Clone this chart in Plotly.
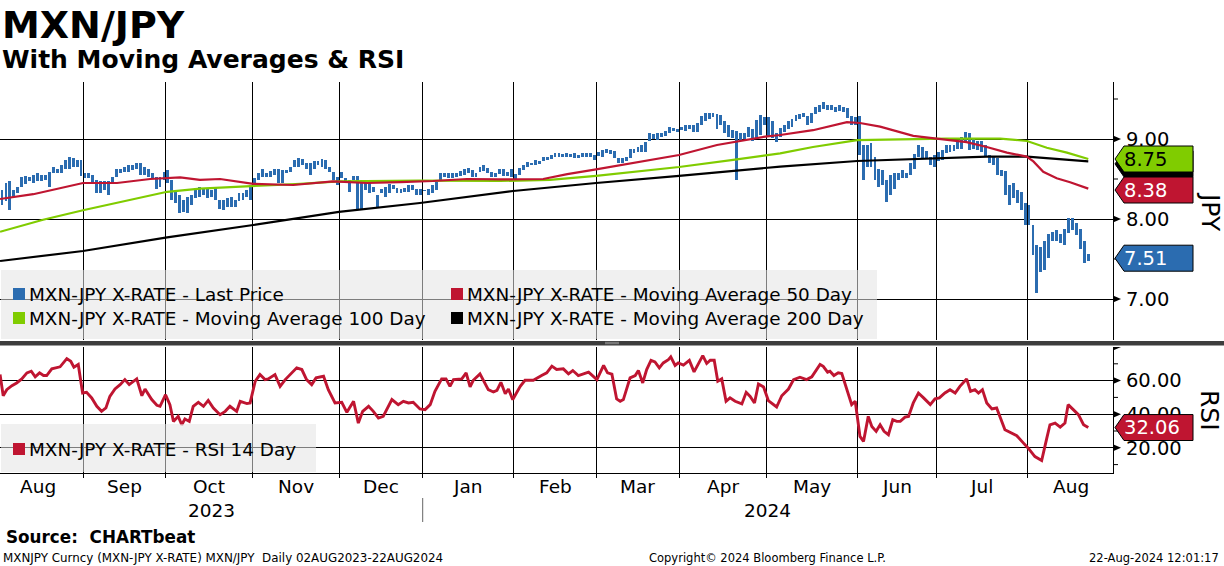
import numpy as np
import pandas as pd
import plotly.graph_objects as go

# ---------------- data ----------------
dates = pd.bdate_range("2023-08-02", "2024-08-22")   # 277 daily bars

price_high = [
    8.49, 8.36, 8.45, 8.47, 8.36, 8.40, 8.53, 8.54, 8.53, 8.55,
    8.57, 8.55, 8.55, 8.59, 8.65, 8.63, 8.67, 8.74, 8.78, 8.76,
    8.74, 8.74, 8.57, 8.58, 8.55, 8.49, 8.47, 8.47, 8.47, 8.53,
    8.62, 8.63, 8.65, 8.67, 8.67, 8.70, 8.70, 8.65, 8.63, 8.57,
    8.53, 8.53, 8.59, 8.61, 8.49, 8.36, 8.30, 8.24, 8.28, 8.30,
    8.36, 8.40, 8.38, 8.38, 8.36, 8.40, 8.24, 8.24, 8.26, 8.28,
    8.24, 8.32, 8.32, 8.36, 8.42, 8.51, 8.57, 8.63, 8.57, 8.60,
    8.62, 8.63, 8.61, 8.61, 8.65, 8.74, 8.76, 8.75, 8.70, 8.70,
    8.72, 8.72, 8.75, 8.74, 8.65, 8.59, 8.53, 8.59, 8.51, 8.49,
    8.54, 8.54, 8.49, 8.47, 8.47, 8.40, 8.30, 8.38, 8.40, 8.44,
    8.43, 8.39, 8.38, 8.39, 8.42, 8.43, 8.38, 8.37, 8.36, 8.38,
    8.42, 8.46, 8.57, 8.58, 8.58, 8.57, 8.58, 8.60, 8.63, 8.64,
    8.61, 8.58, 8.65, 8.68, 8.64, 8.59, 8.57, 8.62, 8.63, 8.59,
    8.62, 8.56, 8.64, 8.68, 8.71, 8.70, 8.74, 8.72, 8.77, 8.78,
    8.80, 8.82, 8.82, 8.81, 8.82, 8.81, 8.82, 8.80, 8.82, 8.82,
    8.82, 8.80, 8.84, 8.86, 8.87, 8.86, 8.85, 8.76, 8.76, 8.78,
    8.87, 8.88, 8.90, 8.93, 8.96, 9.07, 9.06, 9.07, 9.08, 9.10,
    9.15, 9.14, 9.13, 9.15, 9.17, 9.18, 9.18, 9.20, 9.29, 9.33,
    9.32, 9.32, 9.31, 9.30, 9.23, 9.17, 9.11, 9.10, 9.08, 9.07,
    9.15, 9.13, 9.24, 9.30, 9.27, 9.27, 9.22, 9.07, 9.14, 9.17,
    9.22, 9.25, 9.30, 9.31, 9.32, 9.29, 9.32, 9.40, 9.43, 9.46,
    9.43, 9.43, 9.40, 9.43, 9.40, 9.39, 9.29, 9.28, 9.29, 8.93,
    8.93, 8.95, 8.78, 8.63, 8.61, 8.49, 8.55, 8.57, 8.58, 8.61,
    8.58, 8.70, 8.81, 8.93, 8.90, 8.85, 8.78, 8.80, 8.84, 8.86,
    8.93, 8.93, 8.93, 8.97, 9.02, 9.09, 9.07, 9.01, 8.98, 8.97,
    8.93, 8.80, 8.78, 8.76, 8.61, 8.60, 8.43, 8.45, 8.36, 8.34,
    8.20, 8.17, 7.92, 7.68, 7.65, 7.73, 7.81, 7.84, 7.86, 7.81,
    7.88, 8.01, 8.01, 7.95, 7.88, 7.72, 7.56]

price_low = [
    8.32, 8.17, 8.22, 8.11, 8.28, 8.32, 8.40, 8.44, 8.47, 8.45,
    8.47, 8.47, 8.49, 8.40, 8.57, 8.57, 8.57, 8.63, 8.63, 8.65,
    8.65, 8.54, 8.51, 8.51, 8.45, 8.33, 8.32, 8.36, 8.30, 8.45,
    8.52, 8.57, 8.59, 8.59, 8.61, 8.63, 8.55, 8.55, 8.53, 8.51,
    8.38, 8.40, 8.49, 8.45, 8.24, 8.20, 8.07, 8.09, 8.07, 8.17,
    8.26, 8.28, 8.30, 8.26, 8.28, 8.24, 8.13, 8.11, 8.15, 8.15,
    8.15, 8.22, 8.24, 8.28, 8.24, 8.42, 8.49, 8.53, 8.53, 8.53,
    8.55, 8.45, 8.45, 8.57, 8.59, 8.65, 8.65, 8.67, 8.63, 8.55,
    8.63, 8.67, 8.65, 8.63, 8.59, 8.49, 8.42, 8.51, 8.45, 8.34,
    8.49, 8.13, 8.13, 8.36, 8.32, 8.34, 8.15, 8.32, 8.28, 8.33,
    8.38, 8.33, 8.33, 8.34, 8.34, 8.36, 8.30, 8.30, 8.35, 8.30,
    8.33, 8.36, 8.49, 8.52, 8.51, 8.51, 8.53, 8.54, 8.55, 8.57,
    8.53, 8.53, 8.59, 8.60, 8.58, 8.53, 8.53, 8.56, 8.54, 8.54,
    8.52, 8.49, 8.55, 8.61, 8.65, 8.67, 8.68, 8.69, 8.73, 8.74,
    8.75, 8.77, 8.78, 8.78, 8.77, 8.78, 8.76, 8.76, 8.77, 8.78,
    8.77, 8.74, 8.79, 8.78, 8.83, 8.81, 8.76, 8.70, 8.70, 8.72,
    8.76, 8.83, 8.84, 8.84, 8.84, 8.97, 9.00, 8.99, 9.03, 9.04,
    9.07, 9.10, 9.09, 9.11, 9.10, 9.13, 9.09, 9.09, 9.18, 9.23,
    9.25, 9.27, 9.13, 9.18, 9.07, 9.03, 9.01, 8.49, 8.99, 9.00,
    9.03, 8.97, 9.00, 9.05, 9.18, 9.03, 9.01, 8.96, 9.02, 9.09,
    9.13, 9.15, 9.22, 9.25, 9.27, 9.18, 9.20, 9.31, 9.34, 9.37,
    9.36, 9.36, 9.34, 9.35, 9.34, 9.26, 9.18, 9.17, 8.80, 8.49,
    8.65, 8.65, 8.49, 8.40, 8.43, 8.21, 8.30, 8.38, 8.49, 8.51,
    8.51, 8.55, 8.63, 8.78, 8.76, 8.76, 8.68, 8.65, 8.72, 8.74,
    8.82, 8.84, 8.85, 8.88, 8.88, 8.97, 8.86, 8.88, 8.86, 8.84,
    8.78, 8.70, 8.68, 8.55, 8.54, 8.30, 8.18, 8.26, 8.20, 8.11,
    7.92, 7.92, 7.55, 7.08, 7.34, 7.36, 7.51, 7.72, 7.72, 7.70,
    7.67, 7.82, 7.86, 7.80, 7.63, 7.45, 7.48]

last_price = 7.51

# moving averages: vertices (bar position, value)
ma50_pos = [0.5, 8.9, 21.5, 30.1, 38.5, 46.1, 51.1, 56.2, 64.6, 74.7, 84.8, 93.4,
            101.8, 110.1, 118.7, 127.1, 138.0, 144.1, 151.4, 160.8, 172.4, 182.0,
            194.2, 198.0, 206.3, 214.9, 218.2, 223.3, 227.5, 231.7, 236.0, 240.2,
            245.2, 250.3, 255.4, 260.4, 262.1, 264.6, 268.0, 271.4, 276.0]
ma50_val = [8.25, 8.31, 8.45, 8.45, 8.50, 8.52, 8.49, 8.50, 8.44, 8.425, 8.47, 8.45,
            8.46, 8.475, 8.50, 8.495, 8.50, 8.56, 8.62, 8.70, 8.80, 8.925,
            9.03, 9.05, 9.11, 9.21, 9.20, 9.155, 9.10, 9.04, 9.015, 8.99,
            8.96, 8.90, 8.83, 8.78, 8.72, 8.59, 8.51, 8.46, 8.38]

ma100_pos = [0.5, 11.4, 21.5, 34.2, 42.8, 51.1, 64.6, 76.5, 86.3, 106.8, 127.1,
             139.7, 151.4, 172.4, 186.1, 194.2, 198.0, 206.3, 217.5, 228.4,
             240.0, 253.7, 260.5, 265.5, 270.6, 276.0]
ma100_val = [7.84, 7.99, 8.11, 8.25, 8.34, 8.38, 8.41, 8.44, 8.47, 8.48, 8.475,
             8.49, 8.54, 8.65, 8.74, 8.79, 8.82, 8.90, 8.985, 8.995,
             9.005, 9.005, 8.975, 8.89, 8.83, 8.75]

ma200_pos = [0.5, 21.5, 42.8, 64.6, 86.3, 101.8, 106.8, 130.4, 151.4, 172.4,
             194.2, 198.0, 217.5, 236.7, 250.4, 260.5, 268.1, 276.0]
ma200_val = [7.475, 7.60, 7.77, 7.925, 8.09, 8.17, 8.20, 8.35, 8.45, 8.54,
             8.63, 8.655, 8.725, 8.76, 8.78, 8.78, 8.75, 8.72]

rsi_pos = [0.5, 1.3, 2.2, 3.5, 4.7, 6.0, 7.3, 8.4, 9.4, 10.5, 11.5, 12.3, 13.6, 14.8,
           15.7, 17.4, 18.4, 19.2, 20.3, 21.4, 22.4, 23.7, 25.0, 26.2, 27.3, 28.3,
           29.6, 30.9, 32.1, 33.2, 35.1, 36.4, 37.2, 38.9, 40.2, 41.0, 42.4, 43.5,
           44.4, 45.6, 46.5, 47.3, 48.4, 49.4, 50.7, 52.0, 53.2, 54.5, 56.2, 57.5,
           58.7, 60.4, 61.3, 63.0, 63.8, 65.1, 66.3, 67.6, 68.4, 70.1, 71.4, 72.7,
           73.9, 75.6, 76.9, 78.1, 79.4, 80.5, 82.4, 83.6, 85.3, 87.0, 88.3, 90.0,
           91.2, 92.3, 93.8, 95.0, 96.3, 97.5, 99.7, 101.3, 102.6, 103.9, 105.1,
           106.8, 108.1, 109.4, 110.6, 112.3, 113.4, 114.4, 115.3, 117.4, 118.5,
           119.5, 120.3, 122.0, 124.1, 125.4, 126.3, 127.3, 128.4, 129.2, 130.3,
           132.2, 133.4, 135.5, 137.6, 138.9, 140.2, 141.4, 143.1, 144.4, 145.5,
           146.9, 148.2, 149.5, 151.6, 153.3, 154.3, 155.4, 156.6, 157.5, 158.3,
           160.0, 161.3, 162.1, 163.2, 164.2, 165.3, 166.3, 167.4, 168.4, 169.7,
           170.3, 171.4, 172.2, 173.5, 175.0, 176.2, 177.3, 178.4, 179.4, 180.3,
           181.3, 182.2, 183.2, 184.3, 185.3, 186.6, 188.3, 189.4, 190.4, 191.5,
           192.5, 193.8, 195.0, 197.1, 198.4, 200.1, 201.4, 203.0, 204.7, 206.0,
           208.1, 208.9, 210.0, 210.6, 211.6, 212.7, 213.6, 214.9, 216.1, 217.0,
           218.2, 219.1, 220.3, 221.2, 222.3, 223.3, 224.3, 225.4, 226.5, 227.5,
           228.4, 229.6, 230.5, 231.7, 233.0, 234.3, 236.0, 237.2, 238.3, 239.7,
           241.0, 242.3, 243.5, 245.2, 246.2, 247.3, 248.2, 249.2, 250.3, 251.6,
           252.8, 254.9, 256.2, 257.9, 259.6, 260.8, 262.5, 264.2, 265.5, 266.3,
           267.6, 268.9, 270.1, 270.9, 272.2, 273.5, 274.8, 276.0]
rsi_val = [63.6, 51.0, 54.6, 57.0, 58.6, 61.0, 64.6, 65.6, 62.2, 64.6, 63.0, 63.0, 67.0, 67.6,
           68.2, 73.1, 71.5, 68.0, 69.6, 52.6, 53.0, 49.7, 44.7, 41.7, 43.7, 50.6,
           55.0, 57.6, 60.6, 57.6, 61.0, 51.0, 55.0, 48.7, 45.3, 44.7, 51.6, 45.7,
           35.7, 38.7, 33.7, 37.1, 35.7, 44.7, 47.1, 44.7, 48.2, 43.7, 39.7, 41.7,
           44.7, 41.7, 47.7, 46.3, 46.7, 59.6, 63.6, 60.6, 61.0, 63.6, 56.6, 60.6,
           63.6, 67.6, 66.6, 60.6, 57.6, 61.6, 62.6, 54.6, 46.7, 47.1, 41.1, 47.7,
           34.7, 41.7, 44.7, 41.7, 37.7, 38.7, 48.7, 45.7, 47.7, 46.7, 47.1,
           43.1, 42.7, 45.7, 53.6, 61.0, 61.0, 56.6, 60.6, 61.0, 64.6,
           56.2, 60.2, 64.0, 54.6, 53.2, 54.2, 59.0, 52.2, 55.0, 48.7,
           56.6, 60.2, 60.2, 63.0, 64.6, 68.6, 66.6, 67.0, 64.0, 66.0,
           63.0, 64.0, 65.0, 60.6, 69.0, 64.6, 63.8, 49.1, 47.7, 48.7,
           61.6, 63.0, 66.0, 58.6, 66.6, 72.0, 71.1, 67.6, 70.5, 72.5,
           74.1, 69.0, 70.5, 69.2, 72.0, 65.2, 70.5, 74.9, 70.2, 72.1,
           72.1, 59.6, 61.0, 47.7, 49.7, 47.7, 46.1, 53.0, 50.6, 46.7,
           58.0, 56.2, 48.1, 44.3, 51.0, 55.0, 60.6, 62.0, 60.6, 62.2,
           69.6, 68.5, 65.0, 65.6, 63.0, 64.6, 64.2, 54.6, 45.7, 47.7,
           26.8, 23.8, 38.7, 32.7, 29.8, 33.7, 29.8, 27.8, 36.7, 35.7,
           35.7, 38.3, 38.7, 46.7, 52.6, 49.7, 45.7, 49.1, 49.7, 52.6,
           54.6, 52.6, 56.6, 61.0, 53.6, 54.6, 52.6, 54.6, 46.7, 43.1,
           43.7, 30.7, 29.1, 27.2, 22.8, 19.8, 14.8, 12.4, 25.8, 33.7,
           34.7, 32.3, 34.7, 45.7, 42.7, 39.7, 33.7, 32.06]

price_ticks = [7.0, 8.0, 9.0]
price_minor = [7.5, 8.5, 9.5]
rsi_ticks = [20, 40, 60, 80]
rsi_minor = [10, 30, 50, 70]

legend_main = [("MXN-JPY X-RATE - Last Price", "blue"),
               ("MXN-JPY X-RATE - Moving Average 50 Day", "red"),
               ("MXN-JPY X-RATE - Moving Average 100 Day", "green"),
               ("MXN-JPY X-RATE - Moving Average 200 Day", "black")]
legend_rsi = ("MXN-JPY X-RATE - RSI 14 Day", "red")

# ---------------- style ----------------
BLUE = "#2b6cb0"
RED = "#bf1531"
GREEN = "#80cc00"
BLACK = "#000000"
COL = {"blue": BLUE, "red": RED, "green": GREEN, "black": BLACK}
FONT = "DejaVu Sans"

PW = 1113.0           # plot width px
TOP, BOT = 82.0, 473.0
PH = BOT - TOP


def px(p):
    return p / PW


def py(q):
    return (BOT - q) / PH


idx = np.arange(len(dates))
hi = np.array(price_high)
lo = np.array(price_low)

# x axis range in bar units (Sep-1 boundary at px 83, 3.95 px/bar)
x_lo = 21.5 + (0 - 83) / 3.95
x_hi = 21.5 + (PW - 83) / 3.95

# month boundaries / label centres from the business-day calendar
months = pd.period_range("2023-08", "2024-08", freq="M")
bounds, centers, mnames = [], [], []
for m in months:
    full = pd.bdate_range(m.start_time, m.end_time)
    first = np.busday_count(dates[0].date(), full[0].date())
    if m != months[0]:
        bounds.append(first - 0.5)
    centers.append(first - 0.5 + len(full) / 2.0)
    mnames.append(m.strftime("%b"))
jan_b = bounds[mnames.index("Jan") - 1]

fig = go.Figure()
fig.add_trace(go.Bar(x=idx, y=np.maximum(hi - lo, 0.012), base=lo, width=0.74,
                     marker=dict(color=BLUE, line=dict(width=0)),
                     xaxis="x", yaxis="y", hoverinfo="skip", showlegend=False))
fig.add_trace(go.Scatter(x=ma200_pos, y=ma200_val, mode="lines",
                         line=dict(color=BLACK, width=2.2), yaxis="y", showlegend=False))
fig.add_trace(go.Scatter(x=ma100_pos, y=ma100_val, mode="lines",
                         line=dict(color=GREEN, width=2.2), yaxis="y", showlegend=False))
fig.add_trace(go.Scatter(x=ma50_pos, y=ma50_val, mode="lines",
                         line=dict(color=RED, width=2.2), yaxis="y", showlegend=False))
fig.add_trace(go.Scatter(x=rsi_pos, y=rsi_val, mode="lines",
                         line=dict(color=RED, width=2.9), yaxis="y2", showlegend=False))

shapes = []
ann = []

# separator bar between panels
shapes.append(dict(type="rect", xref="paper", yref="paper", x0=-0.01, x1=px(1230),
                   y0=py(345.5), y1=py(341), fillcolor="#3d3d3d", line=dict(width=0), layer="above"))
for q in (342.3, 343.7):
    shapes.append(dict(type="line", xref="paper", yref="paper", x0=px(605), x1=px(619),
                       y0=py(q), y1=py(q), line=dict(color="#9a9a9a", width=0.8), layer="above"))

# right-axis arrows and minor ticks
def arrows(vals, yref, k):
    h = 3.5 / k
    for v in vals:
        shapes.append(dict(type="path", xref="paper", yref=yref,
                           path=f"M {px(PW)},{v - h} L {px(PW + 8)},{v} L {px(PW)},{v + h} Z",
                           fillcolor="black", line=dict(width=0), layer="above"))


def minors(vals, yref):
    for v in vals:
        shapes.append(dict(type="line", xref="paper", yref=yref, x0=px(PW), x1=px(PW + 5),
                           y0=v, y1=v, line=dict(color="black", width=1), layer="above"))


K_MAIN = 80.0       # px per JPY
K_RSI = 101.0 / 60  # px per RSI point
arrows(price_ticks, "y", K_MAIN)
arrows(rsi_ticks, "y2", K_RSI)
minors(price_minor, "y")
minors(rsi_minor, "y2")

# last-value badges
def badge(v, yref, k, fill, tcol, text, shift=0.0, tip=1115):
    c = v - shift / k
    h = 13.0 / k
    xl, xr = px(1124), px(1193)
    shapes.append(dict(type="path", xref="paper", yref=yref,
                       path=(f"M {px(tip)},{c} L {xl},{c + h} L {xr},{c + h} "
                             f"L {xr},{c - h} L {xl},{c - h} Z"),
                       fillcolor=fill, line=dict(color="black", width=1), layer="above"))
    if text:
        ann.append(dict(x=px(1122), y=c, xref="paper", yref=yref, text=text, showarrow=False,
                        xanchor="left", yanchor="middle",
                        font=dict(family=FONT, size=19.5, color=tcol)))


badge(ma200_val[-1], "y", K_MAIN, BLACK, "white", "", shift=2.5)
badge(ma100_val[-1], "y", K_MAIN, GREEN, "black", f"{ma100_val[-1]:.2f}")
badge(ma50_val[-1], "y", K_MAIN, RED, "white", f"{ma50_val[-1]:.2f}", shift=1.4)
badge(last_price, "y", K_MAIN, BLUE, "white", f"{last_price:.2f}")
badge(rsi_val[-1], "y2", K_RSI, RED, "white", f"{rsi_val[-1]:.2f}")

# legend boxes
LEG_FILL = "rgba(228,228,228,0.55)"
shapes.append(dict(type="rect", xref="paper", yref="paper", x0=px(1), x1=px(877),
                   y0=py(339), y1=py(270), fillcolor=LEG_FILL, line=dict(width=0), layer="above"))
shapes.append(dict(type="rect", xref="paper", yref="paper", x0=px(1), x1=px(316),
                   y0=py(472), y1=py(424), fillcolor=LEG_FILL, line=dict(width=0), layer="above"))


def legend_item(x_sq, y_c, label, col):
    shapes.append(dict(type="rect", xref="paper", yref="paper", x0=px(x_sq), x1=px(x_sq + 12),
                       y0=py(y_c + 6), y1=py(y_c - 6), fillcolor=COL[col],
                       line=dict(width=0), layer="above"))
    ann.append(dict(x=px(x_sq + 14), y=py(y_c), xref="paper", yref="paper", text=label,
                    showarrow=False, xanchor="left", yanchor="middle",
                    font=dict(family=FONT, size=18.4, color="black")))


legend_item(13, 294, *legend_main[0])
legend_item(451, 294, *legend_main[1])
legend_item(13, 318, *legend_main[2])
legend_item(451, 318, *legend_main[3])
legend_item(13, 449, *legend_rsi)

# month and year labels
for c, name in zip(centers, mnames):
    ann.append(dict(x=c, y=py(486), xref="x", yref="paper", text=name, showarrow=False,
                    xanchor="center", yanchor="middle",
                    font=dict(family=FONT, size=18.5, color="black")))
ann.append(dict(x=(x_lo + jan_b) / 2, y=py(510), xref="x", yref="paper", text="2023",
                showarrow=False, xanchor="center", yanchor="middle",
                font=dict(family=FONT, size=18.5, color="black")))
ann.append(dict(x=(jan_b + x_hi) / 2, y=py(510), xref="x", yref="paper", text="2024",
                showarrow=False, xanchor="center", yanchor="middle",
                font=dict(family=FONT, size=18.5, color="black")))
shapes.append(dict(type="line", xref="x", yref="paper", x0=jan_b, x1=jan_b,
                   y0=py(522), y1=py(498), line=dict(color="#666666", width=1)))

# axis titles
ann.append(dict(x=px(1210), y=py(212), xref="paper", yref="paper", text="JPY", textangle=90,
                showarrow=False, xanchor="center", yanchor="middle",
                font=dict(family=FONT, size=25, color="black")))
ann.append(dict(x=px(1210), y=py(410), xref="paper", yref="paper", text="RSI", textangle=90,
                showarrow=False, xanchor="center", yanchor="middle",
                font=dict(family=FONT, size=25, color="black")))

# titles
ann.append(dict(x=px(0), y=py(24.5), xref="paper", yref="paper", text="<b>MXN/JPY</b>",
                showarrow=False, xanchor="left", yanchor="middle",
                font=dict(family=FONT, size=38, color="black")))
ann.append(dict(x=px(0), y=py(59), xref="paper", yref="paper",
                text="<b>With Moving Averages &amp; RSI</b>",
                showarrow=False, xanchor="left", yanchor="middle",
                font=dict(family=FONT, size=25, color="black")))

# footer
ann.append(dict(x=px(4), y=py(537), xref="paper", yref="paper", text="<b>Source:  CHARTbeat</b>",
                showarrow=False, xanchor="left", yanchor="middle",
                font=dict(family=FONT, size=16.8, color="black")))
ann.append(dict(x=px(1), y=py(557.5), xref="paper", yref="paper",
                text="MXNJPY Curncy (MXN-JPY X-RATE) MXN/JPY  Daily 02AUG2023-22AUG2024",
                showarrow=False, xanchor="left", yanchor="middle",
                font=dict(family=FONT, size=11.9, color="black")))
ann.append(dict(x=px(767), y=py(557.5), xref="paper", yref="paper",
                text="Copyright© 2024 Bloomberg Finance L.P.",
                showarrow=False, xanchor="center", yanchor="middle",
                font=dict(family=FONT, size=11.5, color="black")))
ann.append(dict(x=px(1221), y=py(557.5), xref="paper", yref="paper",
                text="22-Aug-2024 12:01:17",
                showarrow=False, xanchor="right", yanchor="middle",
                font=dict(family=FONT, size=11.5, color="black")))

fig.update_layout(
    width=1224, height=566, autosize=False,
    margin=dict(l=0, r=1224 - PW, t=TOP, b=566 - BOT, pad=0),
    paper_bgcolor="white", plot_bgcolor="white", showlegend=False,
    font=dict(family=FONT, color="black"),
    xaxis=dict(domain=[0, 1], range=[x_lo, x_hi], anchor="y2",
               tickmode="array", tickvals=bounds, showticklabels=False,
               ticks="outside", ticklen=4, tickcolor="black", tickwidth=1,
               showgrid=True, gridcolor="black", gridwidth=1,
               showline=True, linecolor="black", linewidth=1, zeroline=False),
    yaxis=dict(domain=[py(340), 1], range=[6.4875, 9.7125], side="right", anchor="x",
               tickmode="array", tickvals=price_ticks,
               ticktext=[f"{v:.2f}" for v in price_ticks],
               tickfont=dict(family=FONT, size=19.5, color="black"),
               ticks="", ticklabelstandoff=8,
               showgrid=True, gridcolor="black", gridwidth=1,
               showline=True, linecolor="black", linewidth=1, zeroline=False),
    yaxis2=dict(domain=[0, py(347)], range=[5, 80], side="right", anchor="x",
                tickmode="array", tickvals=rsi_ticks,
                ticktext=[f"{v:.2f}" if v < 80 else "" for v in rsi_ticks],
                tickfont=dict(family=FONT, size=19.5, color="black"),
                ticks="", ticklabelstandoff=8,
                showgrid=True, gridcolor="black", gridwidth=1,
                showline=True, linecolor="black", linewidth=1, zeroline=False),
    shapes=shapes, annotations=ann, bargap=0,
)

fig.write_html("out.html", config={"displayModeBar": False},
               post_script="document.body.style.margin='0';document.body.style.overflow='hidden';")
